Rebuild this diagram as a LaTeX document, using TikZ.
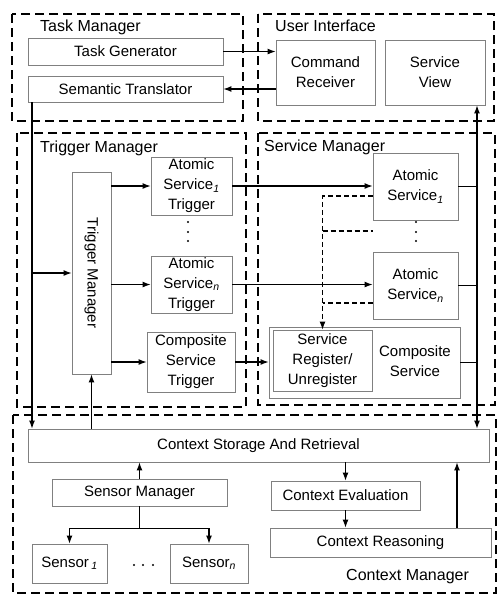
\documentclass[tikz,border=0pt]{standalone}
\usepackage{fontspec}
\setmainfont{Liberation Sans}
\usetikzlibrary{arrows.meta}
\definecolor{boxgray}{RGB}{128,128,128}
\newcommand\diagfont{\fontsize{15}{20}\selectfont}
\newcommand\framefont{\fontsize{16}{20}\selectfont}
\newcommand\idx[1]{\textsubscript{\itshape #1}}
\tikzset{
  box/.style={draw=boxgray, line width=0.9pt, inner sep=1pt, align=center, font=\diagfont},
  frame/.style={draw=black, line width=1.3pt, dash pattern=on 9pt off 5pt},
  framelabel/.style={font=\framefont, anchor=base west, inner sep=0pt},
  conn/.style={draw=black, line width=1.1pt},
  arr/.style={conn, -{Latex[length=8pt,width=6pt]}},
  biarr/.style={conn, {Latex[length=8pt,width=6pt]}-{Latex[length=8pt,width=6pt]}},
  dconn/.style={conn, dash pattern=on 5pt off 3pt},
}
\begin{document}
\begin{tikzpicture}[x=1pt,y=-1pt]
\useasboundingbox (0,0) rectangle (498,595);

% dashed module frames
\draw[frame] (12,14) rectangle (243,121);
\draw[frame] (258,14) rectangle (494,121);
\draw[frame] (17,133) rectangle (246,407);
\draw[frame] (258,133) rectangle (495,405);
\draw[frame] (13,415) rectangle (496,593);

\node[framelabel] (tmlabel) at (40,31) {Task Manager};
\node[framelabel] (uilabel) at (275,31) {User Interface};
\node[framelabel] (trlabel) at (40,152) {Trigger Manager};
\node[framelabel] (smlabel) at (264,151) {Service Manager};
\node[framelabel] (cmlabel) at (346,580) {Context Manager};

% task manager and user interface
\node[box, minimum width=195pt, minimum height=27pt] (tg) at (125.5,51.5) {Task Generator};
\node[box, minimum width=195pt, minimum height=26pt] (st) at (125.5,89) {Semantic Translator};
\node[box, minimum width=99pt, minimum height=65pt] (cr) at (325.5,72.5) {Command\\Receiver};
\node[box, minimum width=100pt, minimum height=65pt] (sv) at (435,72.5) {Service\\View};

% trigger manager
\node[box, minimum width=39pt, minimum height=202pt] (tm) at (91.5,273) {};
\node[font=\diagfont, rotate=-90, inner sep=0pt] (tmtext) at (tm.center) {Trigger Manager};
\node[box, minimum width=81pt, minimum height=58pt] (ast1) at (191.5,186) {Atomic\\Service\idx{1}\\Trigger};
\node[box, minimum width=81pt, minimum height=57pt] (astn) at (191.5,284.5) {Atomic\\Service\idx{n}\\Trigger};
\node[box, minimum width=88pt, minimum height=60pt] (cst) at (191,362) {Composite\\Service\\Trigger};

% service manager
\node[box, minimum width=85pt, minimum height=67pt] (as1) at (415.5,186.5) {Atomic\\Service\idx{1}};
\node[box, minimum width=85pt, minimum height=67pt] (asn) at (415.5,285.5) {Atomic\\Service\idx{n}};
\node[box, minimum width=191pt, minimum height=71pt] (csv) at (364.5,362.5) {};
\node[box, minimum width=99pt, minimum height=61pt] (sr) at (322.5,360.5) {Service\\Register/\\Unregister};
\node[font=\diagfont, align=center, inner sep=0pt] (csvtext) at (415,361) {Composite\\Service};

% context manager
\node[box, minimum width=461pt, minimum height=33pt] (cs) at (258.5,445.5) {Context Storage And Retrieval};
\node[box, minimum width=175pt, minimum height=27pt] (sm) at (139.5,492.5) {Sensor Manager};
\node[box, minimum width=75pt, minimum height=39pt] (s1) at (69.5,563.5) {Sensor\,\idx{1}};
\node[box, minimum width=78pt, minimum height=39pt] (sn) at (209,563.5) {Sensor\idx{n}};
\node[box, minimum width=149pt, minimum height=29pt] (ce) at (345.5,495.5) {Context Evaluation};
\node[box, minimum width=221pt, minimum height=29pt] (crs) at (380.5,542.5) {Context Reasoning};

% ellipsis dots
\foreach \y in {222,232,241} {
  \fill (188,\y) circle (1.1pt);
  \fill (416,\y) circle (1.1pt);
}
\foreach \x in {134,143,153} \fill (\x,565) circle (1.1pt);

% bus lines
\coordinate (lbus) at (32,250);
\coordinate (rbus) at (477,250);
\coordinate (fb) at (457,500);

% task manager <-> user interface
\draw[arr] (tg.east) -- (tg.east -| cr.west);
\draw[arr] (st.east -| cr.west) -- (st.east);

% semantic translator down to storage, with branch into trigger manager
\draw[arr] (lbus |- st.south) -- (lbus |- cs.north);
\draw[arr] (lbus |- tm.west) -- (tm.west);
\draw[arr] (tm.south |- cs.north) -- (tm.south);

% trigger manager to triggers
\draw[arr] (ast1.west -| tm.east) -- (ast1.west);
\draw[arr] (astn.west -| tm.east) -- (astn.west);
\draw[arr] (cst.west -| tm.east) -- (cst.west);

% triggers to services
\draw[arr] (ast1.east) -- (ast1.east -| as1.west);
\draw[arr] (astn.east) -- (astn.east -| asn.west);
\draw[arr] (cst.east) -- (cst.east -| csv.west);

% services to registry (dashed)
\draw[dconn, -{Latex[length=8pt,width=6pt]}] ([yshift=-9.5pt]as1.west) -| (sr.north);
\draw[dconn] (sr.north |- 0,231) -- (as1.west |- 0,231);
\draw[dconn] ([yshift=-17.5pt]asn.west) -- (sr.north |- 0,303);

% services to right bus
\draw[biarr] (rbus |- sv.south) -- (rbus |- cs.north);
\draw[conn] (as1.east) -- (as1.east -| rbus);
\draw[conn] (asn.east) -- (asn.east -| rbus);
\draw[conn] (csv.east) -- (csv.east -| rbus);

% context manager internals
\draw[arr] (sm.north) -- (sm.north |- cs.south);
\draw[arr] (sm.south) -- ++(0,22) -| (s1.north);
\draw[arr] (sm.south) -- ++(0,22) -| (sn.north);
\draw[arr] (ce.north |- cs.south) -- (ce.north);
\draw[arr] (ce.south) -- (ce.south |- crs.north);
\draw[arr] (fb |- crs.north) -- (fb |- cs.south);
\end{tikzpicture}
\end{document}
